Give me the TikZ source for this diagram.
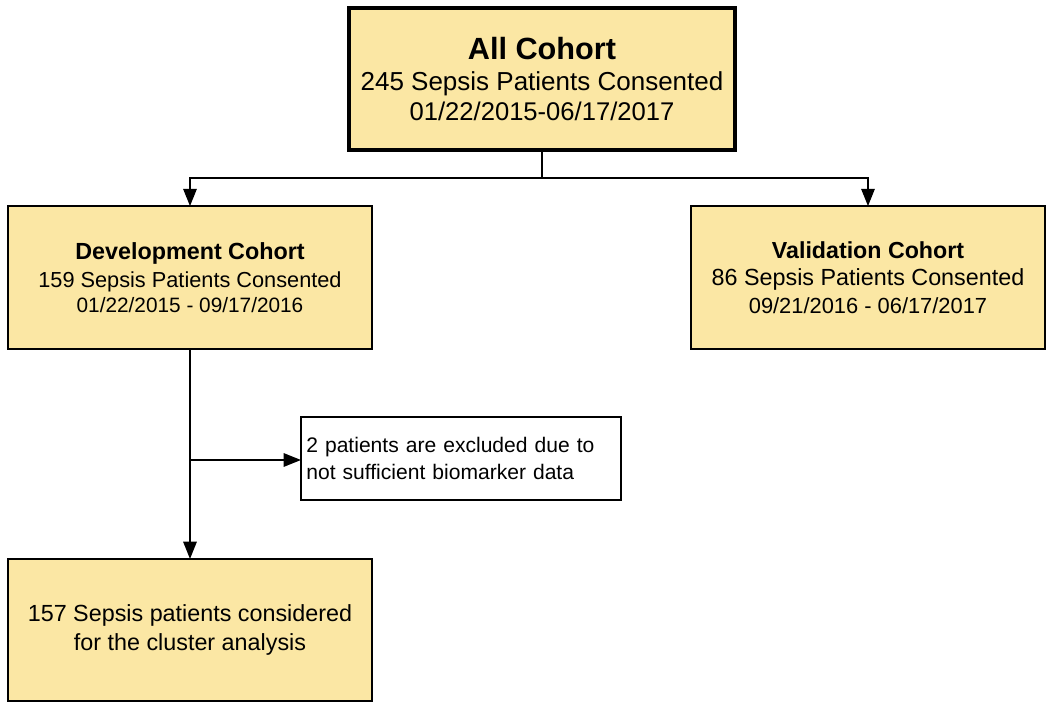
\documentclass[tikz,border=0pt]{standalone}
\usepackage{fontspec}
\setmainfont{Liberation Sans}
\usetikzlibrary{arrows.meta}
\definecolor{boxfill}{RGB}{251,231,164}
\newcommand{\fs}[1]{\fontsize{#1}{#1}\selectfont}

\begin{document}
\begin{tikzpicture}[x=0.75pt,y=-0.75pt]

\tikzset{cohort/.style = {shape=rectangle,draw,fill=boxfill,line width=1.5pt,inner sep=0pt,outer sep=0pt,align=center,minimum width=273pt,minimum height=107pt}}
\tikzset{edge/.style = {-{Triangle[length=13pt,width=10pt]},line width=1.5pt}}
\useasboundingbox (0,0) rectangle (1050,709);
%boxes
\node[cohort, line width=3pt, minimum width=290pt, minimum height=106pt] (all) at (542,79)
  {{\fs{23}\bfseries All Cohort}\\[8.5pt]{\fs{19.5}245 Sepsis Patients Consented}\\[3.5pt]{\fs{19.2}01/22/2015-06/17/2017}};
\node[cohort] (dev) at (190,277.5)
  {{\fs{17.5}\bfseries Development Cohort}\\[5pt]{\fs{16.3}159 Sepsis Patients Consented}\\[3pt]{\fs{15.6}01/22/2015 - 09/17/2016}};
\node[cohort, minimum width=265.5pt] (val) at (868,277.5)
  {{\fs{17.4}\bfseries Validation Cohort}\\[6.5pt]{\fs{17.5}86 Sepsis Patients Consented}\\[4.5pt]{\fs{16.4}09/21/2016 - 06/17/2017}};
\node[cohort, fill=white, minimum width=240pt, minimum height=62pt, align=left, text width=232pt, font=\fs{15.8}] (excl) at (461,458.5)
  {2 patients are excluded due to\\[5pt]not sufficient biomarker data};
\node[cohort, minimum height=106.5pt, font=\fs{17.5}] (final) at (190,630)
  {157 Sepsis patients considered\\[4pt]for the cluster analysis};
%connectors
\coordinate (split) at (542,178);
\coordinate (branch) at (190,460);
\draw[line width=1.5pt] (all) -- (split);
\draw[edge] (split) -| (dev);
\draw[edge] (split) -| (val);
\draw[edge] (dev) -- (final);
\draw[edge] (branch) -- (branch -| excl.west);

\end{tikzpicture}
\end{document}
